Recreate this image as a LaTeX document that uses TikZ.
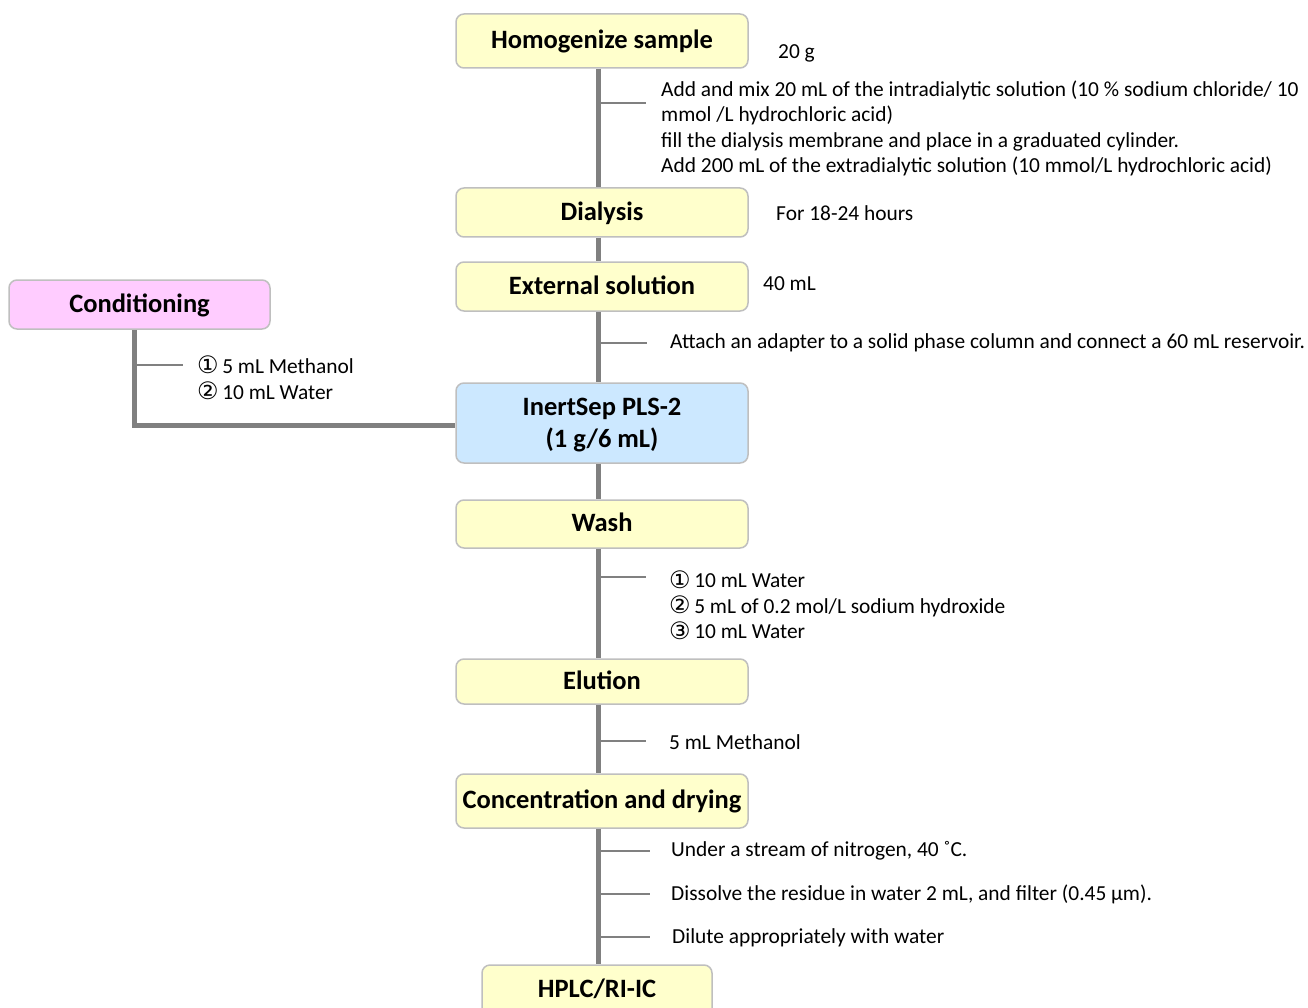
\documentclass[tikz,border=0pt]{standalone}
\usepackage{fontspec}
\setmainfont{Carlito}
\newfontfamily\symf{DejaVu Sans}
\newcommand{\cn}[1]{{\symf\fontsize{24}{20}\selectfont\raisebox{-0.5pt}{#1}}\,}
\definecolor{boxyellow}{HTML}{FFFFCC}
\definecolor{boxpink}{HTML}{FFCCFF}
\definecolor{boxblue}{HTML}{CCE8FF}
\definecolor{boxedge}{HTML}{BFBFBF}
\definecolor{linegray}{HTML}{808080}
\tikzset{
  boxbase/.style={draw=boxedge, line width=1.5pt, rounded corners=8pt, fill=boxyellow,
    minimum width=292pt, minimum height=50pt, inner sep=0pt, align=center,
    font=\fontsize{26.5}{32}\selectfont\bfseries},
  stepbox/.style={boxbase, text height=18pt, text depth=2.6pt},
  note/.style={anchor=west, inner sep=0pt, align=left, font=\fontsize{21.4}{25.6}\selectfont},
  trunk/.style={draw=linegray, line width=5pt},
  tick/.style={draw=linegray, line width=2pt},
}
\begin{document}
\begin{tikzpicture}[x=1pt,y=-1pt]
\clip (0,0) rectangle (1308,1008);
\fill[white] (0,0) rectangle (1308,1008);
% boxes
\node[stepbox, minimum height=54pt] (homog) at (602,41) {Homogenize sample};
\node[stepbox, minimum height=49pt] (dial) at (602,212.5) {Dialysis};
\node[stepbox, minimum height=49pt] (ext) at (602,286.5) {External solution};
\node[stepbox, fill=boxpink, minimum width=261pt, minimum height=49pt] (cond) at (139.5,304.5) {Conditioning};
\node[boxbase, fill=boxblue, minimum height=80pt] (pls) at (602,423) {};
\node[font=\fontsize{26.5}{32}\selectfont\bfseries, align=center, inner sep=0pt] (plst) at (602,425.5) {InertSep PLS-2\\(1 g/6 mL)};
\node[stepbox, minimum height=48pt] (wash) at (602,524) {Wash};
\node[stepbox, minimum height=45pt] (elu) at (602,681.5) {Elution};
\node[stepbox, minimum height=54pt] (conc) at (602,801) {Concentration and drying};
\node[stepbox, minimum width=230pt, minimum height=56pt] (hplc) at (597,993) {};
\node[stepbox, draw=none, fill=none, minimum width=0pt, minimum height=0pt] (hplct) at (597,990) {HPLC/RI-IC};
% trunk coordinates
\coordinate (tx) at (598,0);
\coordinate (cx) at (134,0);
% trunk lines
\draw[trunk] (homog.south -| tx) -- (dial.north -| tx);
\draw[trunk] (dial.south -| tx) -- (ext.north -| tx);
\draw[trunk] (ext.south -| tx) -- (pls.north -| tx);
\draw[trunk] (pls.south -| tx) -- (wash.north -| tx);
\draw[trunk] (wash.south -| tx) -- (elu.north -| tx);
\draw[trunk] (elu.south -| tx) -- (conc.north -| tx);
\draw[trunk] (conc.south -| tx) -- (hplc.north -| tx);
\coordinate (cj) at (134,425);
\draw[trunk] (cond.south -| cx) -- (cj) -- (cj -| pls.west);
% ticks
\coordinate (t1) at (646,103);
\coordinate (t2) at (647,343);
\coordinate (t3) at (646,577);
\coordinate (t4) at (646,741);
\coordinate (t5) at (650,851);
\coordinate (t6) at (650,894);
\coordinate (t7) at (650,937);
\coordinate (t8) at (183,365);
\foreach \t in {t1,t2,t3,t4,t5,t6,t7} \draw[tick] (\t -| tx) -- (\t);
\draw[tick] (t8 -| cx) -- (t8);
% notes
\node[note] (n0) at (778,53) {20 g};
\node[note] (n1) at (661,128.5) {Add and mix 20 mL of the intradialytic solution (10 \% sodium chloride/ 10\\mmol /L hydrochloric acid)\\fill the dialysis membrane and place in a graduated cylinder.\\Add 200 mL of the extradialytic solution (10 mmol/L hydrochloric acid)};
\node[note] (n2) at (776,213) {For 18-24 hours};
\node[note] (n3) at (763,284) {40 mL};
\node[note] (n4) at (670,343) {Attach an adapter to a solid phase column and connect a 60 mL reservoir.};
\node[note] (n5) at (197,378) {\cn{①}5 mL Methanol\\\cn{②}10 mL Water};
\node[note] (n6) at (669,605) {\cn{①}10 mL Water\\\cn{②}5 mL of 0.2 mol/L sodium hydroxide\\\cn{③}10 mL Water};
\node[note] (n7) at (669,742) {5 mL Methanol};
\node[note] (n8) at (671,851) {Under a stream of nitrogen, 40 ˚C.};
\node[note] (n9) at (671,894) {Dissolve the residue in water 2 mL, and filter (0.45 µm).};
\node[note] (n10) at (672,938) {Dilute appropriately with water};
\end{tikzpicture}
\end{document}
